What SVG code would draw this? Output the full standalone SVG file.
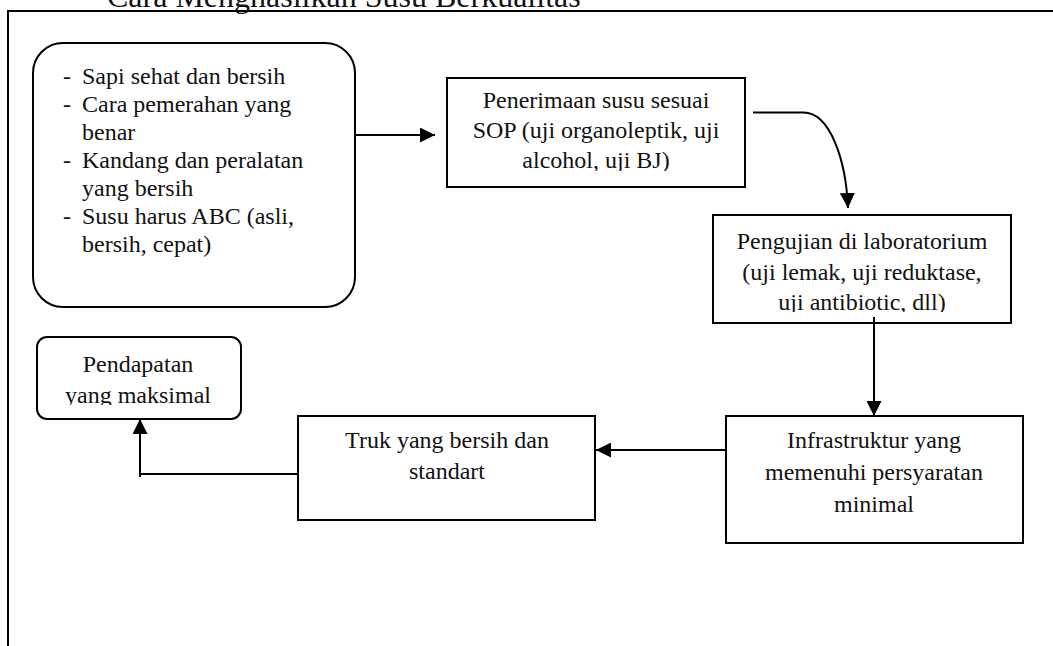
<svg xmlns="http://www.w3.org/2000/svg" width="1053" height="646" viewBox="0 0 1053 646">
<style>
text{font-family:"Liberation Serif","Times New Roman",serif;fill:#111;font-size:24px}
.c{text-anchor:middle}
.box{fill:#fff;stroke:#000;stroke-width:2}
.ln{fill:none;stroke:#000;stroke-width:2}
</style>
<defs>
<marker id="ah" viewBox="0 0 10 10" refX="10" refY="5" markerWidth="15" markerHeight="15" markerUnits="userSpaceOnUse" orient="auto">
<path d="M0,0 L10,5 L0,10 z" fill="#000"/>
</marker>
<clipPath id="c2"><rect x="447" y="78" width="298" height="93"/></clipPath>
<clipPath id="c3"><rect x="713" y="215" width="298" height="97"/></clipPath>
<clipPath id="c6"><rect x="37" y="337" width="204" height="68"/></clipPath>
</defs>
<rect width="1053" height="646" fill="#fff"/>
<text x="107" y="6.5" style="font-size:32px">Cara Menghasilkan Susu Berkualitas</text>
<path class="ln" d="M8,646 V11 H1053"/>
<g id="n1">
<rect class="box" x="33" y="43" width="322" height="264" rx="30" ry="30"/>
<text x="63" y="84">-</text><text x="82" y="84">Sapi sehat dan bersih</text>
<text x="63" y="112">-</text><text x="82" y="112">Cara pemerahan yang</text>
<text x="82" y="140">benar</text>
<text x="63" y="168">-</text><text x="82" y="168">Kandang dan peralatan</text>
<text x="82" y="196">yang bersih</text>
<text x="63" y="224">-</text><text x="82" y="224">Susu harus ABC (asli,</text>
<text x="82" y="252">bersih, cepat)</text>
</g>
<g id="n2">
<rect class="box" x="447" y="78" width="298" height="109"/>
<g clip-path="url(#c2)">
<text class="c" x="596" y="108">Penerimaan susu sesuai</text>
<text class="c" x="596" y="138">SOP (uji organoleptik, uji</text>
<text class="c" x="596" y="168">alcohol, uji BJ)</text>
</g>
</g>
<g id="n3">
<rect class="box" x="713" y="215" width="298" height="108"/>
<g clip-path="url(#c3)">
<text class="c" x="862" y="249">Pengujian di laboratorium</text>
<text class="c" x="862" y="280">(uji lemak, uji reduktase,</text>
<text class="c" x="862" y="310">uji antibiotic, dll)</text>
</g>
</g>
<g id="n4">
<rect class="box" x="726" y="416" width="297" height="127"/>
<text class="c" x="874" y="448">Infrastruktur yang</text>
<text class="c" x="874" y="480">memenuhi persyaratan</text>
<text class="c" x="874" y="512">minimal</text>
</g>
<g id="n5">
<rect class="box" x="298" y="416" width="297" height="104"/>
<text class="c" x="447" y="448">Truk yang bersih dan</text>
<text class="c" x="447" y="479">standart</text>
</g>
<g id="n6">
<rect class="box" x="37" y="337" width="204" height="82" rx="10" ry="10"/>
<g clip-path="url(#c6)">
<text class="c" x="138" y="372">Pendapatan</text>
<text class="c" x="138" y="403">yang maksimal</text>
</g>
</g>
<g id="connectors">
<path class="ln" d="M355,135 H435" marker-end="url(#ah)"/>
<path class="ln" d="M753,112.5 H803 C830,112 846,160 848,208" marker-end="url(#ah)"/>
<path class="ln" d="M874,317 V416" marker-end="url(#ah)"/>
<path class="ln" d="M726,450 H596" marker-end="url(#ah)"/>
<path class="ln" d="M298,474 H140 V477 M140,474 V419" marker-end="url(#ah)"/>
</g>
</svg>
